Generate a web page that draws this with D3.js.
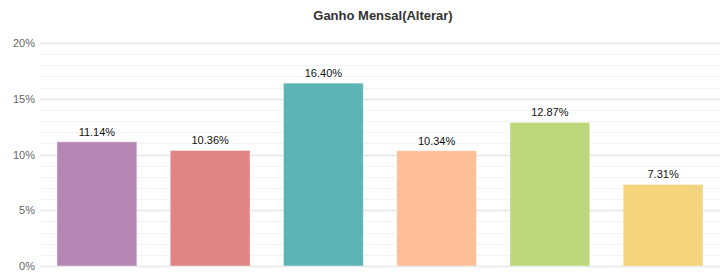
<!DOCTYPE html>
<html>
<head>
<meta charset="utf-8">
<script src="https://cdn.jsdelivr.net/npm/d3@7"></script>
<style>
  body { margin: 0; background: #fff; }
  text { font-family: Arial, "Liberation Sans", sans-serif; }
</style>
</head>
<body>
<svg width="727" height="278"></svg>
<script>
// data
const categories = ["A", "B", "C", "D", "E", "F"];
const values = [11.14, 10.36, 16.40, 10.34, 12.87, 7.31];
const colors = ["#b687b4", "#e08584", "#5eb3b4", "#fdbe98", "#bed77a", "#f5d47e"];
const yTicks = [0, 5, 10, 15, 20];
const title = "Ganho Mensal(Alterar)";

const svg = d3.select("svg"),
  width = +svg.attr("width"),
  height = +svg.attr("height");

const margin = {top: 43, right: 7, bottom: 12, left: 40};

const x = d3.scaleBand()
  .domain(categories)
  .range([margin.left, width - margin.right])
  .paddingInner(0.295)
  .paddingOuter(0.15);

const y = d3.scaleLinear()
  .domain([0, 20])
  .range([height - margin.bottom, margin.top]);

// minor grid lines (every 1%)
svg.append("g")
  .selectAll("line")
  .data(d3.range(1, 20).filter(d => d % 5 !== 0))
  .join("line")
    .attr("x1", margin.left)
    .attr("x2", width - margin.right)
    .attr("y1", d => Math.round(y(d)) + 0.5)
    .attr("y2", d => Math.round(y(d)) + 0.5)
    .attr("stroke", "#f4f4f4");

// major grid lines
svg.append("g")
  .selectAll("line")
  .data(yTicks)
  .join("line")
    .attr("x1", margin.left)
    .attr("x2", width - margin.right)
    .attr("y1", d => Math.round(y(d)) + 0.5)
    .attr("y2", d => Math.round(y(d)) + 0.5)
    .attr("stroke", "#e6e6e6")
    .attr("stroke-width", 1.5);

// y axis labels
svg.append("g")
  .selectAll("text")
  .data(yTicks)
  .join("text")
    .attr("x", margin.left - 5)
    .attr("y", d => y(d) + 4)
    .attr("text-anchor", "end")
    .style("font-size", "11px")
    .style("fill", "#666")
    .text(d => d + "%");

// bars
svg.append("g")
  .selectAll("rect")
  .data(values)
  .join("rect")
    .attr("x", (d, i) => x(categories[i]))
    .attr("y", d => y(d))
    .attr("width", x.bandwidth())
    .attr("height", d => y(0) - y(d))
    .attr("fill", (d, i) => colors[i])
    .attr("stroke", "rgba(255,255,255,0.4)");

// value labels
svg.append("g")
  .selectAll("text")
  .data(values)
  .join("text")
    .attr("x", (d, i) => x(categories[i]) + x.bandwidth() / 2)
    .attr("y", d => y(d) - 6)
    .attr("text-anchor", "middle")
    .style("font-size", "11px")
    .style("fill", "#111")
    .text(d => d.toFixed(2) + "%");

// title
svg.append("text")
  .attr("x", (margin.left + width - margin.right) / 2 + 3)
  .attr("y", 20)
  .attr("text-anchor", "middle")
  .style("font-size", "13px")
  .style("font-weight", "bold")
  .style("fill", "#333")
  .text(title);
</script>
</body>
</html>
